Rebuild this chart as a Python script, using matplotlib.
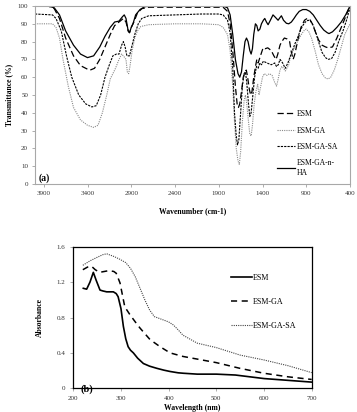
import matplotlib
matplotlib.use("Agg")
import matplotlib.pyplot as plt

plt.rcParams['font.family'] = ['Liberation Serif', 'DejaVu Serif']

# ---------------- Panel (a): FTIR ----------------
esm_nha_w = [4000, 3850, 3780, 3720, 3650, 3560, 3480, 3400, 3330, 3260, 3200, 3140, 3090, 3040, 3000, 2980, 2960, 2935, 2920, 2900, 2880, 2850, 2800, 2750, 2700, 1850, 1800, 1770, 1740, 1710, 1680, 1660, 1640, 1620, 1600, 1583, 1565, 1545, 1530, 1515, 1500, 1481, 1465, 1450, 1430, 1412, 1390, 1374, 1355, 1336, 1310, 1280, 1250, 1222, 1200, 1184, 1160, 1127, 1100, 1070, 1040, 1013, 980, 940, 900, 860, 820, 780, 740, 700, 660, 640, 600, 550, 500, 450, 400]
esm_nha_t = [100, 100, 99, 95, 86, 78, 73, 71, 72, 77, 83, 88, 91, 91.5, 94, 95, 93, 86, 85, 88, 90, 95, 98, 99.5, 100, 100, 99, 95, 84, 70, 62, 60, 63, 72, 80, 82, 80, 75, 73, 76, 84, 90, 89, 86, 87, 90, 92, 93, 91, 89.5, 92, 95, 93.5, 92, 93.5, 94.5, 92, 90.3, 90, 91, 93, 95, 97, 98, 98, 97, 95, 92, 89, 86.5, 85, 84.5, 85.5, 88, 91, 95, 100]

esm_w = [4000, 3850, 3780, 3720, 3650, 3560, 3480, 3400, 3370, 3320, 3260, 3200, 3140, 3090, 3040, 2990, 2960, 2935, 2920, 2900, 2870, 2830, 2780, 2700, 1850, 1800, 1770, 1740, 1710, 1690, 1675, 1660, 1640, 1620, 1600, 1585, 1570, 1550, 1535, 1520, 1500, 1480, 1465, 1450, 1430, 1410, 1393, 1370, 1340, 1300, 1270, 1245, 1225, 1200, 1180, 1150, 1120, 1090, 1070, 1050, 1030, 1000, 960, 920, 890, 860, 830, 800, 760, 720, 680, 650, 600, 550, 500, 450, 400]
esm_t = [100, 100, 98.5, 93, 82, 72, 66.5, 64.5, 64, 65, 70, 77, 84, 89, 91, 93, 91, 86, 85, 88, 91, 96, 98.5, 99.3, 99.3, 97, 90, 75, 55, 45, 43, 45, 52, 60, 63, 64, 60, 53, 50, 52, 60, 66, 70, 68, 71, 74, 76.5, 76, 76.5, 75, 72, 70, 73, 78, 80, 82, 81.5, 80, 74, 70, 73, 80, 88, 92, 93, 92.5, 90, 86, 81, 78, 77, 76.5, 77, 82, 88, 94, 100]

esm_ga_sa_w = [4000, 3800, 3760, 3700, 3640, 3580, 3500, 3420, 3350, 3300, 3250, 3200, 3150, 3110, 3070, 3040, 3010, 2990, 2970, 2950, 2920, 2890, 2860, 2820, 2780, 2700, 2400, 2100, 1900, 1850, 1800, 1770, 1740, 1720, 1700, 1685, 1670, 1650, 1630, 1610, 1595, 1580, 1560, 1545, 1530, 1510, 1490, 1470, 1450, 1430, 1410, 1390, 1350, 1300, 1260, 1240, 1220, 1200, 1170, 1140, 1110, 1080, 1050, 1020, 1000, 970, 940, 910, 880, 850, 820, 790, 760, 720, 680, 650, 610, 570, 530, 480, 440, 400]
esm_ga_sa_t = [95.5, 95, 93, 86, 72, 60, 50, 45, 43.3, 44, 50, 60, 67, 72, 73, 73, 78, 80, 77, 72, 72, 78, 84, 90, 93, 94.5, 95, 95.5, 95.5, 95, 92, 85, 65, 40, 27, 22, 25, 40, 55, 62, 63, 57, 45, 38, 40, 50, 60, 66, 65, 68, 67, 69, 68, 67, 68, 66, 67, 70, 68, 65, 68, 72, 76, 80, 82, 86, 89, 91, 92, 91.5, 89, 85, 80, 74, 71, 70, 70.5, 74, 80, 86, 92, 99]

esm_ga_w = [4000, 3800, 3760, 3720, 3680, 3620, 3560, 3480, 3400, 3330, 3280, 3230, 3180, 3140, 3100, 3080, 3040, 3010, 2990, 2960, 2945, 2930, 2915, 2890, 2860, 2830, 2790, 2700, 2400, 2100, 1900, 1850, 1800, 1770, 1740, 1720, 1700, 1680, 1665, 1650, 1630, 1610, 1595, 1580, 1560, 1545, 1530, 1515, 1495, 1475, 1455, 1440, 1420, 1400, 1380, 1350, 1320, 1290, 1260, 1240, 1225, 1200, 1180, 1160, 1140, 1120, 1100, 1080, 1050, 1020, 990, 950, 920, 900, 870, 840, 800, 760, 720, 680, 650, 620, 580, 540, 500, 460, 420, 400]
esm_ga_t = [90, 90, 88, 82, 70, 55, 43, 36, 33, 31.8, 33, 40, 50, 59, 63, 65, 70, 73, 72, 70, 63, 62, 66, 75, 82, 86, 88.5, 89.5, 90, 90, 89.5, 88, 84, 75, 55, 35, 20, 13, 11, 18, 35, 47, 50, 45, 35, 28, 27, 33, 45, 52, 56, 50, 55, 60, 62, 61, 62, 61, 57, 55, 58, 64, 66, 65, 63.5, 65, 67, 72, 75, 78, 81, 84.5, 86.5, 87, 85.5, 82, 75, 67, 62, 59.5, 59, 60, 64, 70, 77, 84, 88, 90]

ftir_xticks = [3900, 3400, 2900, 2400, 1900, 1400, 900, 400]
ftir_yticks = list(range(0, 101, 10))

# ---------------- Panel (b): UV-Vis ----------------
uv_esm_x = [221, 228, 235, 242, 248, 256, 262, 270, 284, 290, 294, 300, 305, 310, 315, 320, 326, 335, 347, 360, 375, 390, 403, 420, 431, 460, 500, 540, 570, 600, 650, 700]
uv_esm_y = [1.13, 1.12, 1.20, 1.31, 1.22, 1.11, 1.10, 1.09, 1.09, 1.07, 1.035, 0.90, 0.70, 0.56, 0.47, 0.43, 0.40, 0.34, 0.28, 0.25, 0.226, 0.205, 0.19, 0.175, 0.17, 0.16, 0.16, 0.15, 0.13, 0.11, 0.09, 0.07]

uv_ga_x = [220, 230, 238, 246, 255, 265, 275, 285, 290, 298, 308, 319, 330, 340, 361, 382, 403, 430, 460, 500, 550, 600, 650, 700]
uv_ga_y = [1.34, 1.37, 1.38, 1.34, 1.31, 1.32, 1.33, 1.32, 1.30, 1.19, 0.92, 0.83, 0.75, 0.68, 0.55, 0.47, 0.40, 0.36, 0.33, 0.29, 0.225, 0.17, 0.13, 0.10]

uv_sa_x = [220, 235, 250, 262, 270, 285, 298, 310, 320, 330, 340, 350, 360, 370, 385, 400, 410, 420, 430, 460, 500, 550, 600, 650, 700]
uv_sa_y = [1.39, 1.44, 1.48, 1.51, 1.52, 1.49, 1.457, 1.42, 1.355, 1.26, 1.13, 1.00, 0.885, 0.81, 0.78, 0.75, 0.715, 0.66, 0.60, 0.51, 0.46, 0.375, 0.32, 0.256, 0.177]

uv_xticks = [200, 300, 400, 500, 600, 700]
uv_yticks = [0, 0.4, 0.8, 1.2, 1.6]
uv_yticklabels = ['0', '0.4', '0.8', '1.2', '1.6']

W, H = 357, 412
fig = plt.figure(figsize=(W / 100, H / 100), dpi=100)

def frac(l, t, r, b):
    return [l / W, 1 - b / H, (r - l) / W, (b - t) / H]

# ---- top axes ----
ax1 = fig.add_axes(frac(35, 6, 350, 184))
ax1.plot(esm_w, esm_t, color='black', lw=0.9, dashes=(5, 2.5), label='ESM')
ax1.plot(esm_ga_w, esm_ga_t, color='#8a8a8a', lw=0.8, dashes=(1, 1), label='ESM-GA')
ax1.plot(esm_ga_sa_w, esm_ga_sa_t, color='black', lw=0.8, dashes=(2, 1), label='ESM-GA-SA')
ax1.plot(esm_nha_w, esm_nha_t, color='black', lw=0.9, label='ESM-GA-n-\nHA')
ax1.set_xlim(4000, 400)
ax1.set_ylim(0, 100)
ax1.set_xticks(ftir_xticks)
ax1.set_yticks(ftir_yticks)
ax1.tick_params(axis='both', labelsize=5, colors='#a0a0a0', labelcolor='#333333',
                length=2.5, width=0.6, pad=2.5)
for s in ax1.spines.values():
    s.set_color('#a8a8a8')
    s.set_linewidth(0.8)
ax1.set_ylabel('Transmittance (%)', fontsize=5.5, fontweight='bold', labelpad=3)
ax1.set_xlabel('Wavenumber (cm-1)', fontsize=5.5, fontweight='bold', labelpad=8)
ax1.text(0.012, 0.005, '(a)', transform=ax1.transAxes, fontsize=7, fontweight='bold',
         ha='left', va='bottom')
leg1 = ax1.legend(loc='upper left', bbox_to_anchor=(0.768, 0.415), frameon=False,
                  fontsize=5.5, handlelength=2.4, handletextpad=0.15,
                  labelspacing=1.1, borderpad=0, borderaxespad=0)

# ---- bottom axes ----
ax2 = fig.add_axes(frac(73.3, 246.7, 311.7, 388.3))
ax2.plot(uv_esm_x, uv_esm_y, color='black', lw=1.2, label='ESM')
ax2.plot(uv_ga_x, uv_ga_y, color='black', lw=1.1, dashes=(4, 3), label='ESM-GA')
ax2.plot(uv_sa_x, uv_sa_y, color='#444444', lw=0.8, dashes=(1, 1), label='ESM-GA-SA')
ax2.set_xlim(200, 700)
ax2.set_ylim(0, 1.6)
ax2.set_xticks(uv_xticks)
ax2.set_yticks(uv_yticks)
ax2.set_yticklabels(uv_yticklabels)
ax2.tick_params(axis='both', labelsize=5, colors='#a0a0a0', labelcolor='#333333',
                length=2.5, width=0.6, pad=3)
for s in ax2.spines.values():
    s.set_color('black')
    s.set_linewidth(0.9)
ax2.set_ylabel('Absorbance', fontsize=5.5, fontweight='bold', labelpad=9)
fig.text((73.3 + 311.7) / 2 / W, 1 - 408 / H, 'Wavelength (nm)', fontsize=5.5,
         fontweight='bold', ha='center', va='center')
ax2.text(0.03, -0.04, '(b)', transform=ax2.transAxes, fontsize=7.5, fontweight='bold',
         ha='left', va='bottom')
leg2 = ax2.legend(loc='upper left', bbox_to_anchor=(0.66, 0.81), frameon=False,
                  fontsize=5.8, handlelength=2.6, handletextpad=0.2,
                  labelspacing=2.0, borderpad=0, borderaxespad=0)

fig.savefig('out.png', dpi=100)
